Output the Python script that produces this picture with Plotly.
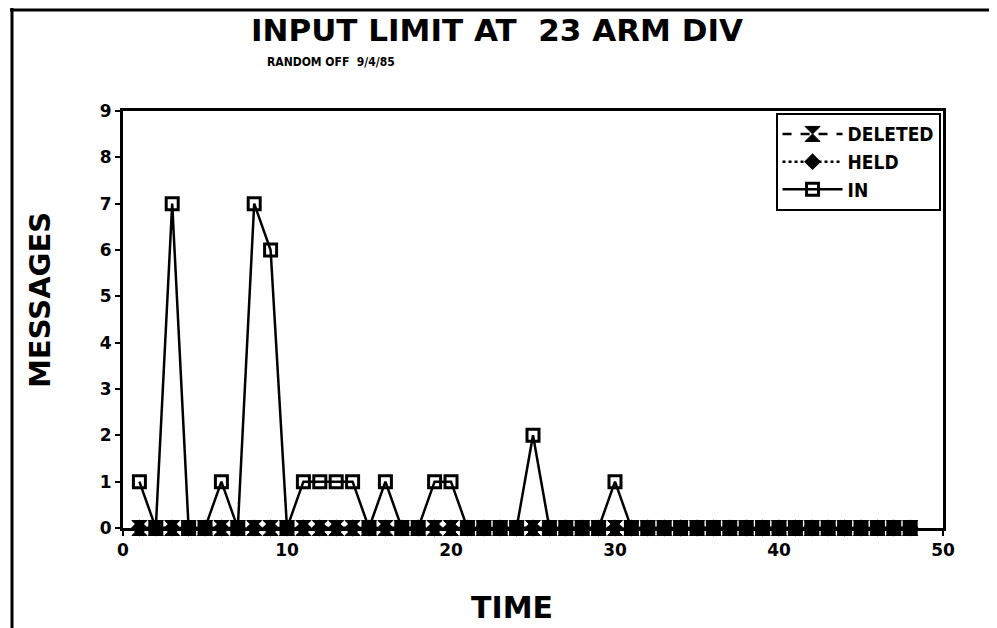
import plotly.graph_objects as go

time = list(range(1, 49))
in_vals = [1, 0, 7, 0, 0, 1, 0, 7, 6, 0,
           1, 1, 1, 1, 0, 1, 0, 0, 1, 1,
           0, 0, 0, 0, 2, 0, 0, 0, 0, 1,
           0, 0, 0, 0, 0, 0, 0, 0, 0, 0,
           0, 0, 0, 0, 0, 0, 0, 0]
held_vals = [0] * 48
deleted_vals = [0] * 48

title_text = "INPUT LIMIT AT  23 ARM DIV"
subtitle_text = "RANDOM OFF  9/4/85"
x_title = "TIME"
y_title = "MESSAGES"

# page is shown with an 8px body margin: work in page pixels and shift
OFF = 8
W, H = 997 - OFF, 628 - OFF
L, R, T, B = 123 - OFF, 943 - OFF, 111 - OFF, 528 - OFF
pw, ph = R - L, B - T


def px(x):
    return (x - OFF - L) / pw


def py(y):
    return (B - (y - OFF)) / ph


BOLD = "DejaVu Sans"
COND = "DejaVu Sans Condensed, Liberation Sans Narrow, DejaVu Sans"

fig = go.Figure()
fig.add_trace(go.Scatter(
    x=time, y=deleted_vals, name="DELETED", mode="lines+markers",
    cliponaxis=False,
    line=dict(color="black", width=2.5, dash="dash"),
    marker=dict(symbol="hourglass", size=15, color="black",
                line=dict(color="black", width=1)),
))
fig.add_trace(go.Scatter(
    x=time, y=held_vals, name="HELD", mode="lines+markers",
    cliponaxis=False,
    line=dict(color="black", width=2.5, dash="dot"),
    marker=dict(symbol="diamond", size=13, color="black"),
))
fig.add_trace(go.Scatter(
    x=time, y=in_vals, name="IN", mode="lines+markers",
    cliponaxis=False,
    line=dict(color="black", width=2.5),
    marker=dict(symbol="square-open", size=12, color="black",
                line=dict(color="black", width=3)),
))

annotations = [
    dict(text=title_text, x=px(497), y=py(30), xref="paper", yref="paper",
         showarrow=False, xanchor="center", yanchor="middle",
         font=dict(family=BOLD, size=31, color="black", weight="bold")),
    dict(text=subtitle_text, x=px(331), y=py(62), xref="paper", yref="paper",
         showarrow=False, xanchor="center", yanchor="middle",
         font=dict(family=COND, size=12, color="black", weight="bold")),
    dict(text=y_title, x=px(40), y=py(300), xref="paper", yref="paper",
         showarrow=False, xanchor="center", yanchor="middle", textangle=-90,
         font=dict(family=BOLD, size=29, color="black", weight="bold")),
    dict(text=x_title, x=px(512), y=py(607), xref="paper", yref="paper",
         showarrow=False, xanchor="center", yanchor="middle",
         font=dict(family=BOLD, size=30, color="black", weight="bold")),
]

shapes = [
    dict(type="line", xref="paper", yref="paper",
         x0=px(12), x1=px(12), y0=py(8), y1=py(640),
         line=dict(color="black", width=3)),
    dict(type="line", xref="paper", yref="paper",
         x0=px(10), x1=px(1005), y0=py(10), y1=py(10),
         line=dict(color="black", width=3)),
]

fig.update_layout(
    width=W, height=H,
    margin=dict(l=L, r=W - R, t=T, b=H - B),
    paper_bgcolor="white", plot_bgcolor="white",
    showlegend=True,
    legend=dict(x=0.997, y=0.995, xanchor="right", yanchor="top",
                bgcolor="white", bordercolor="black", borderwidth=2,
                font=dict(family=COND, size=19, color="black", weight="bold"),
                itemwidth=60, tracegroupgap=0),
    annotations=annotations,
    shapes=shapes,
    xaxis=dict(range=[0, 50], tickvals=[0, 10, 20, 30, 40, 50],
               showgrid=False, zeroline=False, showline=True, linecolor="black",
               linewidth=3, mirror=True, ticks="outside", ticklen=5,
               tickwidth=2, tickcolor="black",
               tickfont=dict(family=BOLD, size=17, color="black", weight="bold")),
    yaxis=dict(range=[0, 9], tickvals=list(range(0, 10)),
               showgrid=False, zeroline=False, showline=True, linecolor="black",
               linewidth=3, mirror=True, ticks="outside", ticklen=5,
               tickwidth=2, tickcolor="black",
               tickfont=dict(family=BOLD, size=17, color="black", weight="bold")),
)

fig.write_html("out.html")
